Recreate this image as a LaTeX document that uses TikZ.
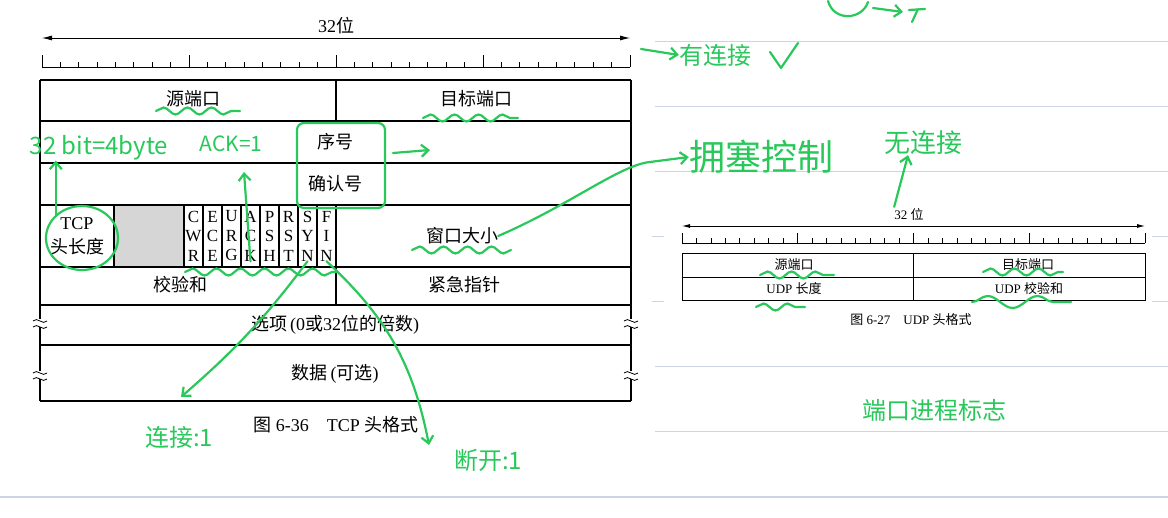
\documentclass[tikz,border=0pt]{standalone}
\usepackage{fontspec}
\setmainfont{Liberation Serif}
\newfontfamily\cjk{Noto Sans CJK SC}
\usetikzlibrary{arrows.meta,shapes.geometric,decorations.pathmorphing,positioning}
\definecolor{handgreen}{RGB}{40,200,90}
\definecolor{ruleline}{RGB}{205,212,228}
\newcommand\zhs[1]{{\cjk #1}}

% bit ruler: x0, x1, base y, long tick
\newcommand\bitruler[4]{%
  \draw[thinline] (#1,#3) -- (#2,#3);
  \foreach \i in {0,...,32}{
    \pgfmathsetmacro\tx{#1+(#2-#1)/32*\i}
    \pgfmathsetmacro\tl{mod(\i,8)==0 ? #4 : #4*0.45}
    \draw[thinline] (\tx,#3) -- (\tx,#3-\tl);
  }}
% break mark on a side border
\newcommand\brkmark[2]{%
  \fill[white] (#1-2,#2-4) rectangle (#1+2,#2+4);
  \draw[thinline] (#1-7,#2-2) .. controls (#1-3,#2-7) and (#1+3,#2+3) .. (#1+7,#2-2);
  \draw[thinline] (#1-7,#2+4) .. controls (#1-3,#2-1) and (#1+3,#2+9) .. (#1+7,#2+4);}

\tikzset{
  frame/.style={line width=1.1pt},
  thinline/.style={line width=0.8pt},
  field/.style={inner sep=0pt, font=\fontsize{18}{20}\selectfont},
  flagcell/.style={inner sep=0pt, align=center, font=\fontsize{17}{19.5}\selectfont},
  small/.style={inner sep=0pt, font=\fontsize{13}{15}\selectfont},
  hand/.style={draw=handgreen, line width=2.2pt, line cap=round, line join=round},
  handarrow/.style={hand, -{Straight Barb[length=7pt,width=12pt]}},
  squiggle/.style={hand, decorate, decoration={snake, segment length=24pt, amplitude=3.5pt}},
  note/.style={inner sep=0pt, text=handgreen, font=\cjk\fontsize{#1}{#1}\selectfont},
  note/.default=22
}

\begin{document}
\begin{tikzpicture}[x=1pt,y=-1pt]
\useasboundingbox (0,0) rectangle (1168,518);

% notebook lines
\foreach \ly in {42,107,172,367,432}
  \draw[ruleline, line width=1pt] (655,\ly) -- (1168,\ly);
\foreach \ly in {237,302}{
  \draw[ruleline, line width=1pt] (652,\ly) -- (664,\ly);
  \draw[ruleline, line width=1pt] (1152,\ly) -- (1168,\ly);}
\draw[ruleline, line width=1.5pt] (0,497) -- (1168,497);

% ---------------- TCP header ----------------
\node[field] (tcpbits) at (336,26) {32\zhs{位}};
\draw[thinline, {Latex[length=10pt,width=5pt]}-{Latex[length=10pt,width=5pt]}] (42,38) -- (630,38);
\bitruler{42}{630}{67}{12}

\fill[black!16] (114,205) rectangle (184,267);
\foreach \ry in {80,121,163,205,267,305,345,401}
  \draw[frame] (40,\ry) -- (631,\ry);
\draw[frame] (40,80) -- (40,401);
\draw[frame] (631,80) -- (631,401);
\draw[frame] (336,80) -- (336,121);
\draw[frame] (336,205) -- (336,305);
\draw[frame] (114,205) -- (114,267);
\foreach \i in {0,...,7}
  \draw[frame] (184+19*\i,205) -- (184+19*\i,267);

\node[field] (srcport) at (193,99) {\zhs{源端口}};
\node[field] (dstport) at (476,99) {\zhs{目标端口}};
\node[field] (seq) at (335,142) {\zhs{序号}};
\node[field] (ack) at (335,184) {\zhs{确认号}};
\node[field, align=center, font=\fontsize{18}{24}\selectfont] (hlen) at (77,236) {TCP\\\zhs{头长度}};
\foreach \a/\b/\c [count=\i] in {C/W/R,E/C/E,U/R/G,A/C/K,P/S/H,R/S/T,S/Y/N,F/I/N}
  \node[flagcell] (f\i) at ({184+19*(\i-0.5)},236) {\a\\\b\\\c};
\node[field] (win) at (462,236) {\zhs{窗口大小}};
\node[field] (csum) at (180,285) {\zhs{校验和}};
\node[field] (urg) at (464,285) {\zhs{紧急指针}};
\node[field] (opts) at (335,325) {\zhs{选项}\,(0\zhs{或}32\zhs{位的倍数})};
\node[field] (data) at (335,374) {\zhs{数据}\,(\zhs{可选})};
\node[field] (tcpcap) at (336,425) {\zhs{图} 6-36\quad TCP \zhs{头格式}};

\brkmark{40}{323}
\brkmark{40}{375}
\brkmark{631}{323}
\brkmark{631}{375}

% ---------------- UDP header ----------------
\node[small] (udpbits) at (909,215) {32 \zhs{位}};
\draw[thinline, {Latex[length=8pt,width=4pt]}-{Latex[length=8pt,width=4pt]}] (682,226) -- (1145,226);
\bitruler{682}{1145}{243}{10}
\draw[thinline] (682,253) rectangle (1145,300);
\draw[thinline] (682,277) -- (1145,277);
\draw[thinline] (913,253) -- (913,300);
\node[small] (usrc) at (794,265) {\zhs{源端口}};
\node[small] (udst) at (1028,265) {\zhs{目标端口}};
\node[small] (ulen) at (794,289) {UDP \zhs{长度}};
\node[small] (usum) at (1029,289) {UDP \zhs{校验和}};
\node[small] (udpcap) at (911,320) {\zhs{图} 6-27\quad UDP \zhs{头格式}};

% ---------------- handwritten notes ----------------
\draw[squiggle] (156,111) -- (240,111);
\draw[squiggle] (423,118) -- (518,118);
\draw[squiggle] (185,272) -- (337,272);
\draw[squiggle] (412,250) -- (511,250);
\draw[squiggle] (760,275) -- (834,275);
\draw[squiggle] (983,272) -- (1063,272);
\draw[squiggle] (756,307) -- (805,307);
\draw[squiggle, decoration={snake, segment length=50pt, amplitude=6pt}] (972,302) -- (1071,302);

\node[note=24] (bitnote) at (99,148) {32 bit=4byte};
\node[note=21] (acknote) at (231,144) {ACK=1};
\node[hand, draw, rounded corners=7pt, minimum width=88pt, minimum height=85pt] (seqbox) at (341,165.5) {};
\node[hand, draw, ellipse, minimum width=72pt, minimum height=64pt] (hlenring) at (82,238) {};
\coordinate (seqfrom) at (393,153);
\coordinate (seqto) at (430,150);
\draw[handarrow] (seqfrom) -- (seqto);
\draw[handarrow] (hlenring.north west) -- (hlenring.north west |- bitnote.south);
\coordinate (ackup) at (244,172);
\draw[handarrow] (f4.south) -- (ackup);

\coordinate (synend) at (181,397);
\coordinate (finend) at (429,445);
\draw[handarrow] (f7.south) to[bend left=6] (synend);
\draw[handarrow] (f8.south) to[bend left=18] (finend);
\node[note=24] (synnote) at (179,437) {连接:1};
\node[note=24] (finnote) at (488,460) {断开:1};

\node[note=36] (congnote) at (761,157) {拥塞控制};
\draw[handarrow] (win.east) .. controls (570,205) and (620,165) .. (650,162) -- (congnote.west);

\node[note=24] (connnote) at (715,55) {有连接};
\coordinate (connfrom) at (641,49);
\draw[handarrow] (connfrom) -- (connnote.west);
\draw[hand] (770,52) -- (781,68) -- (798,43);
\draw[hand] (828,1) .. controls (834,22) and (862,20) .. (868,2);
\draw[handarrow] (873,8) -- (903,12);
\draw[hand] (909,10) -- (925,9) (918,9) -- (912,22);

\node[note=26] (udpnote) at (923,143) {无连接};
\draw[handarrow] (udpbits.north west) ++(0,-2) coordinate (udpfrom) -- (udpnote.south -| 908,0);

\node[note=24] (portnote) at (934,410) {端口进程标志};
\end{tikzpicture}
\end{document}
